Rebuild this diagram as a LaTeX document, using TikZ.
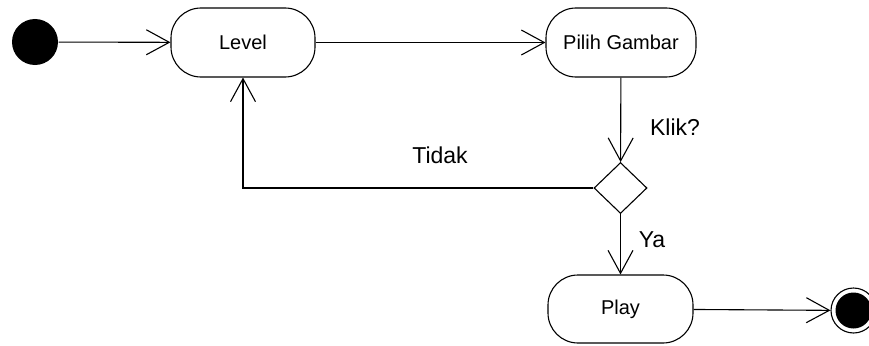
\documentclass[tikz,border=0pt]{standalone}
\usepackage{fontspec}
\setmainfont{Liberation Sans}
\usetikzlibrary{arrows.meta,shapes.geometric}
\begin{document}
\begin{tikzpicture}[x=1pt,y=-1pt,line width=1.1pt,
  font=\fontsize{20}{24}\selectfont,
  action/.style={draw,rectangle,rounded corners=30pt,minimum height=69pt,inner sep=0pt},
  flow/.style={-{Straight Barb[length=23pt,width=25pt]}},
  lbl/.style={inner sep=0pt,font=\fontsize{23}{27}\selectfont}]
\useasboundingbox (0,0) rectangle (869,345);
% states
\node[circle,fill=black,minimum size=46pt,inner sep=0pt] (start) at (35,42) {};
\node[action,minimum width=144pt] (level) at (243,42.5) {Level};
\node[action,minimum width=150pt] (pilih) at (621,42.5) {Pilih Gambar};
\node[draw,diamond,minimum width=53pt,minimum height=51pt,inner sep=0pt] (dec) at (620.5,188) {};
\node[action,minimum width=145pt,minimum height=68pt] (play) at (620.5,309) {Play};
\node[draw,circle,minimum size=45pt,inner sep=0pt] (final) at (853.5,310.5) {};
\fill (final.center) circle (18pt);
% transitions
\draw[flow] (start) -- (level);
\draw[flow] (level) -- (pilih);
\draw[flow] (pilih) -- (dec);
\draw[flow] (dec.west) -- (level.south |- dec.west) -- (level.south);
\draw[flow] (dec) -- (play);
\draw[flow] (play) -- (final);
% guard labels
\node[lbl] (klik) at (675,127) {Klik?};
\node[lbl] (tidak) at (440,155) {Tidak};
\node[lbl] (ya) at (652,240) {Ya};
\end{tikzpicture}
\end{document}
